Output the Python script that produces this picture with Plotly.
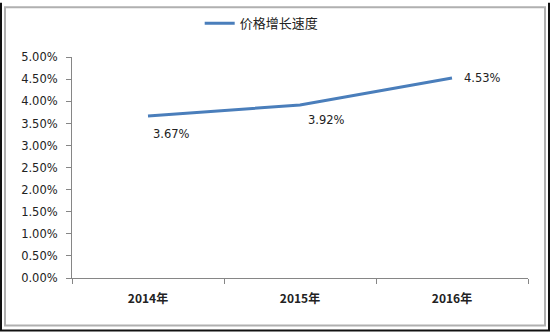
import plotly.graph_objects as go

categories = ["2014年", "2015年", "2016年"]
growth = [0.0367, 0.0392, 0.0453]
labels = ["3.67%", "3.92%", "4.53%"]
series_name = "价格增长速度"
label_shift_x = [23, 26, 30]
label_shift_y = [-18, -15, 0]

fig = go.Figure()
fig.add_trace(go.Scatter(
    x=categories, y=growth, name=series_name,
    mode="lines",
    line=dict(color="#4A7EBB", width=3),
    cliponaxis=False,
))

for c, v, t, sx, sy in zip(categories, growth, labels, label_shift_x, label_shift_y):
    fig.add_annotation(x=c, y=v, text=t, showarrow=False, xshift=sx, yshift=sy,
                       font=dict(family="DejaVu Sans", size=11.5, color="#222222"))

W, H = 550, 332
L, R, T, B = 72, 22, 55, 54
pw, ph = W - L - R, H - T - B
def px(x):
    return (x - L) / pw
def py(y):
    return (H - B - y) / ph

fig.update_layout(
    width=W, height=H,
    margin=dict(l=L, r=R, t=T, b=B),
    paper_bgcolor="white", plot_bgcolor="white",
    showlegend=True,
    legend=dict(orientation="h", x=0.416, xanchor="center", y=0.975, yref="container", yanchor="top",
                font=dict(family="Noto Sans CJK SC", size=13, color="#222222"),
                itemwidth=30, bgcolor="rgba(0,0,0,0)"),
    xaxis=dict(type="category", range=[-0.5, 2.5], showgrid=False,
               showline=True, linecolor="#868686", linewidth=1,
               ticks="outside", tickson="boundaries", ticklen=5, tickcolor="#868686",
               ticklabelstandoff=10,
               tickfont=dict(family="Noto Sans CJK SC", size=12, color="#222222", weight="bold"),
               zeroline=False),
    yaxis=dict(range=[0, 0.05], dtick=0.005, tickformat=".2%", showgrid=False,
               showline=True, linecolor="#868686", linewidth=1,
               ticks="outside", ticklen=5, tickcolor="#868686",
               ticklabelstandoff=6,
               tickfont=dict(family="DejaVu Sans", size=11.5, color="#222222"),
               zeroline=False),
    shapes=[
        dict(type="rect", xref="paper", yref="paper",
             x0=px(5), x1=px(545), y0=py(326), y1=py(4.5),
             line=dict(color="#B0B0B0", width=2), layer="below"),
        dict(type="line", xref="paper", yref="paper",
             x0=px(1), x1=px(1), y0=py(331), y1=py(0),
             line=dict(color="#111111", width=2), layer="below"),
        dict(type="line", xref="paper", yref="paper",
             x0=px(549), x1=px(549), y0=py(331), y1=py(0),
             line=dict(color="#111111", width=2), layer="below"),
        dict(type="line", xref="paper", yref="paper",
             x0=px(0), x1=px(550), y0=py(331), y1=py(331),
             line=dict(color="#111111", width=2), layer="below"),
    ],
)

fig.write_html("out.html")
